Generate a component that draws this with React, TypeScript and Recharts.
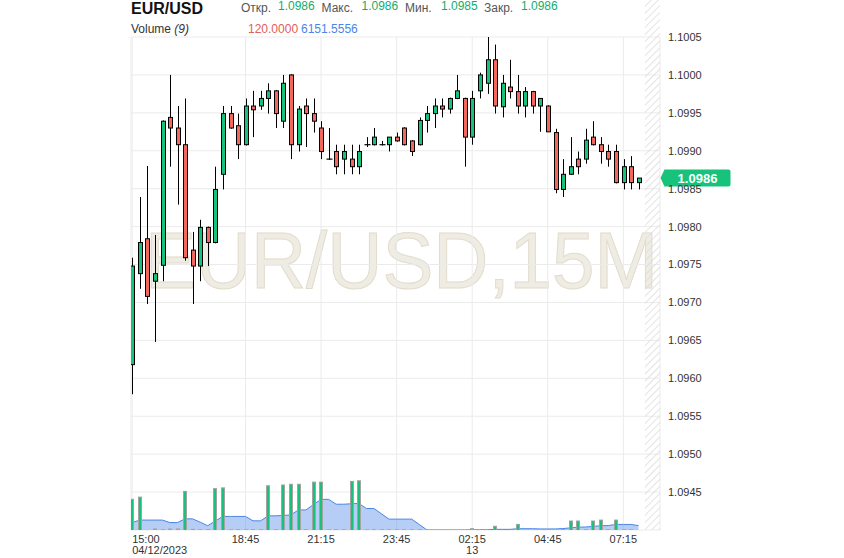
import React from 'react';
import { ComposedChart, Bar, Area, XAxis, YAxis, CartesianGrid, ReferenceArea, ReferenceDot } from 'recharts';

// 15M candles, 04/12/2023 15:00 .. 13th 07:45
const OPEN = [
  1.09618, 1.09738, 1.09784, 1.09728, 1.09749, 1.09944, 1.0993, 1.09908, 1.09769, 1.09748,
  1.09799, 1.09779, 1.09869, 1.09949, 1.09933, 1.09908, 1.09959, 1.09959, 1.09969, 1.09979,
  1.09939, 1.1, 1.09908, 1.09959, 1.09949, 1.0993, 1.09889, 1.09899, 1.09889, 1.09889,
  1.09879, 1.09908, 1.09908, 1.09908, 1.09908, 1.09918, 1.0993, 1.09913, 1.09908, 1.0994,
  1.09949, 1.09959, 1.09955, 1.09969, 1.09969, 1.09918, 1.09979, 1.09989, 1.1002, 1.09958,
  1.09984, 1.09978, 1.09959, 1.09978, 1.09959, 1.09959, 1.09924, 1.09849, 1.09869, 1.09889,
  1.09889, 1.09918, 1.09908, 1.09899, 1.09899, 1.09858, 1.09879, 1.09858,
];
const HIGH = [
  1.09759, 1.09839, 1.0988, 1.09789, 1.0994, 1.1, 1.09959, 1.09969, 1.09793, 1.09809,
  1.098, 1.09879, 1.09959, 1.09959, 1.09949, 1.09969, 1.09979, 1.09979, 1.09989, 1.0998,
  1.1, 1.10001, 1.09959, 1.09969, 1.09969, 1.09939, 1.0993, 1.09908, 1.09908, 1.09908,
  1.09908, 1.09918, 1.0993, 1.09913, 1.09918, 1.09924, 1.09931, 1.09914, 1.09944, 1.09959,
  1.09969, 1.09969, 1.0997, 1.1, 1.0997, 1.09979, 1.10003, 1.1005, 1.1004, 1.1,
  1.1002, 1.1, 1.09984, 1.09979, 1.09969, 1.0996, 1.09929, 1.09889, 1.09918, 1.09899,
  1.09929, 1.09939, 1.09918, 1.09908, 1.09908, 1.09889, 1.09893, 1.09864,
];
const LOW = [
  1.09579, 1.09718, 1.09698, 1.09648, 1.09728, 1.09879, 1.09829, 1.09755, 1.09698, 1.09728,
  1.09748, 1.09778, 1.09849, 1.09929, 1.09889, 1.09907, 1.09918, 1.09954, 1.09949, 1.0993,
  1.0993, 1.09889, 1.09899, 1.09905, 1.09924, 1.09889, 1.09888, 1.09869, 1.09869, 1.09869,
  1.09869, 1.09905, 1.09907, 1.09907, 1.09899, 1.09912, 1.09907, 1.09893, 1.09907, 1.09924,
  1.0993, 1.09944, 1.09949, 1.09968, 1.09879, 1.09908, 1.09969, 1.09975, 1.09949, 1.09944,
  1.09969, 1.09949, 1.09944, 1.09949, 1.09925, 1.09925, 1.09844, 1.09839, 1.09868, 1.09869,
  1.09883, 1.09907, 1.09883, 1.09879, 1.09857, 1.09849, 1.09849, 1.09849,
];
const CLOSE = [
  1.09748, 1.09779, 1.09708, 1.09738, 1.09939, 1.0993, 1.09908, 1.09759, 1.09748, 1.09799,
  1.09779, 1.09849, 1.09949, 1.0993, 1.09908, 1.09959, 1.09954, 1.09969, 1.09979, 1.09949,
  1.09989, 1.09908, 1.09955, 1.09949, 1.09939, 1.09899, 1.09889, 1.09879, 1.09899, 1.09879,
  1.09899, 1.09908, 1.09918, 1.09908, 1.09918, 1.09913, 1.09908, 1.09899, 1.0994, 1.09949,
  1.09959, 1.09955, 1.09969, 1.09979, 1.09918, 1.09969, 1.1, 1.1002, 1.09959, 1.09989,
  1.09978, 1.09959, 1.09978, 1.09959, 1.09969, 1.09925, 1.09849, 1.09869, 1.09879, 1.09879,
  1.09914, 1.09908, 1.09899, 1.09889, 1.09858, 1.09879, 1.09858, 1.09864,
];
const VOLUME = [
  43000, 46000, 200, 1500, 300, 1400, 1500, 54000, 900, 300,
  500, 58000, 59000, 300, 400, 300, 500, 300, 62000, 400,
  63000, 64000, 64000, 500, 67000, 67000, 300, 400, 300, 68000,
  69000, 300, 400, 300, 300, 300, 300, 300, 300, 0,
  0, 0, 0, 0, 0, 2000, 0, 0, 5200, 0,
  0, 7800, 0, 0, 0, 0, 0, 400, 12600, 12600,
  500, 12600, 13900, 400, 13900, 300, 300, 120,
];
// Volume (9) moving average
const VOLUME_MA = [
  10400, 13900, 13900, 13900, 13900, 10400, 10400, 15600, 15600, 11000,
  6000, 12500, 19000, 19000, 19000, 19000, 12800, 12800, 19800, 19800,
  20400, 21000, 28100, 28100, 35500, 42900, 42900, 36100, 36100, 36700,
  37200, 30100, 30100, 22600, 15200, 15200, 15200, 15200, 7700, 100,
  100, 100, 100, 100, 100, 300, 300, 300, 900, 900,
  900, 1800, 1800, 1800, 1500, 1500, 1500, 2000, 3000, 4000,
  4200, 5000, 6000, 6200, 7800, 7800, 7800, 6151.5556,
];
const TIME_TICK_POS = [0, 15, 25, 35, 45, 55, 65];
const TIME_TICK_LABELS = ['15:00', '18:45', '21:15', '23:45', '02:15', '04:45', '07:15'];
const TIME_TICK_SUB = ['04/12/2023', '', '', '', '13', '', ''];
const PRICE_TICKS = [1.0945, 1.095, 1.0955, 1.096, 1.0965, 1.097, 1.0975, 1.098, 1.0985, 1.099, 1.0995, 1.1, 1.1005];

const GREEN = '#17c27b';
const RED = '#f4675c';
const BLUE = '#4a86e8';
const FONT = '"Liberation Sans", Arial, sans-serif';
const X_MIN = -0.15;
const X_MAX = 69.85;
const FUTURE_FROM = 67.85;
const VOL_MAX = 690000;

const rows = OPEN.map((o, i) => ({
  i,
  o,
  h: HIGH[i],
  l: LOW[i],
  c: CLOSE[i],
  range: [LOW[i], HIGH[i]],
  vol: VOLUME[i],
  volUp: i === 0 || VOLUME[i] >= VOLUME[i - 1],
  ma: VOLUME_MA[i],
}));
const last = rows[rows.length - 1];

const Candle = (props: any) => {
  const { x, y, width, height, payload } = props;
  if (!payload) return null;
  const { o, h, l, c } = payload;
  const cx = Math.round(x + width / 2) + 0.5;
  const k = h > l ? Math.abs(height) / (h - l) : 0;
  const py = (p: number) => y + (h - p) * k;
  const top = py(Math.max(o, c));
  const bot = py(Math.min(o, c));
  return (
    <g>
      <line x1={cx} x2={cx} y1={y} y2={y + Math.abs(height)} stroke="#000" strokeWidth={1} />
      {bot - top < 1.2 ? (
        <line x1={cx - 3} x2={cx + 3} y1={top} y2={top} stroke="#000" strokeWidth={1.2} />
      ) : (
        <rect x={cx - 2} y={top} width={4} height={bot - top} fill={c >= o ? GREEN : RED} stroke="#000" strokeWidth={1} />
      )}
    </g>
  );
};

const VolBar = (props: any) => {
  const { x, y, width, height, payload } = props;
  if (!payload || !(height > 0.2)) return null;
  const left = Math.round(x + width / 2) - 2;
  return (
    <g>
      <rect x={left} y={y - 0.5} width={4} height={height + 0.5} fill="#a3a3a3" />
      {height > 1.5 && <rect x={left + 1} y={y + 0.5} width={2} height={height - 0.5} fill={payload.volUp ? GREEN : RED} />}
    </g>
  );
};

const TimeTick = (props: any) => {
  const { x, y, payload } = props;
  const k = TIME_TICK_POS.indexOf(payload.value);
  if (k < 0) return null;
  const anchor = k === 0 ? 'start' : 'middle';
  return (
    <g fontFamily={FONT} fontSize={11} fill="#333">
      <text x={x} y={y} dy={5} textAnchor={anchor}>{TIME_TICK_LABELS[k]}</text>
      {TIME_TICK_SUB[k] && (
        <text x={x} y={y} dy={15.5} textAnchor={anchor}>{TIME_TICK_SUB[k]}</text>
      )}
    </g>
  );
};

const PriceTag = (props: any) => {
  const { cx, cy } = props;
  const x0 = Math.round(cx) + 0.5;
  const yc = cy;
  return (
    <g>
      <path
        d={`M ${x0} ${yc} L ${x0 + 4} ${yc - 8.5} L ${x0 + 68} ${yc - 8.5} Q ${x0 + 70} ${yc - 8.5} ${x0 + 70} ${yc - 6.5} L ${x0 + 70} ${yc + 6.5} Q ${x0 + 70} ${yc + 8.5} ${x0 + 68} ${yc + 8.5} L ${x0 + 4} ${yc + 8.5} Z`}
        fill={GREEN}
      />
      <text x={x0 + 37} y={yc + 4.5} textAnchor="middle" fontFamily={FONT} fontSize={13} fontWeight="bold" fill="#fff">
        {last.c.toFixed(4)}
      </text>
    </g>
  );
};

export default function App() {
  return (
    <div style={{ position: 'absolute', left: 0, top: 0, width: 844, height: 558, background: '#fff', overflow: 'hidden' }}>
      <svg width={844} height={558} style={{ position: 'absolute', left: 0, top: 0 }}>
        <text
          x={145}
          y={288}
          textLength={513}
          lengthAdjust="spacingAndGlyphs"
          fontFamily={FONT}
          fontSize={80}
          fill="#efece3"
          stroke="#e2dccc"
          strokeWidth={1}
        >
          EUR/USD,15M
        </text>
      </svg>
      <ComposedChart width={844} height={558} data={rows} margin={{ top: 37, right: 0, bottom: 0, left: 131 }}>
        <defs>
          <pattern id="hatch" width={5} height={5} patternUnits="userSpaceOnUse" patternTransform="rotate(45)">
            <line x1={0} y1={0} x2={0} y2={5} stroke="#dcdcdc" strokeWidth={1.6} />
          </pattern>
        </defs>
        <XAxis
          xAxisId="t"
          dataKey="i"
          type="number"
          domain={[X_MIN, X_MAX]}
          ticks={TIME_TICK_POS}
          interval={0}
          tick={<TimeTick />}
          tickLine={false}
          axisLine={false}
          height={28}
          allowDataOverflow
        />
        <XAxis xAxisId="v" dataKey="i" type="number" domain={[X_MIN, X_MAX]} hide allowDataOverflow />
        <YAxis
          yAxisId="p"
          orientation="right"
          domain={[1.094, 1.1005]}
          ticks={PRICE_TICKS}
          interval={0}
          tickFormatter={(v: number) => v.toFixed(4)}
          tick={{ fontSize: 11, fill: '#333', fontFamily: FONT }}
          tickLine={false}
          axisLine={false}
          width={184}
          allowDataOverflow
        />
        <YAxis yAxisId="v" domain={[0, VOL_MAX]} hide allowDataOverflow />
        <ReferenceArea
          xAxisId="t"
          yAxisId="p"
          x1={FUTURE_FROM}
          x2={X_MAX}
          y1={1.094}
          y2={1.101}
          ifOverflow="visible"
          fill="url(#hatch)"
          fillOpacity={1}
          stroke="none"
        />
        <CartesianGrid xAxisId="t" yAxisId="p" stroke="#ebebeb" />
        <Bar xAxisId="t" yAxisId="p" dataKey="range" barSize={6} shape={<Candle />} isAnimationActive={false} />
        <Bar xAxisId="v" yAxisId="v" dataKey="vol" barSize={4} shape={<VolBar />} isAnimationActive={false} />
        <Area
          xAxisId="v"
          yAxisId="v"
          dataKey="ma"
          type="linear"
          stroke={BLUE}
          strokeWidth={1}
          fill="#6d9cec"
          fillOpacity={0.5}
          dot={false}
          activeDot={false}
          isAnimationActive={false}
        />
        <ReferenceDot
          xAxisId="t"
          yAxisId="p"
          x={X_MAX}
          y={last.c}
          ifOverflow="visible"
          shape={(p: any) => <PriceTag cx={p.cx} cy={p.cy} />}
        />
      </ComposedChart>
      <svg width={844} height={40} style={{ position: 'absolute', left: 0, top: 0, pointerEvents: 'none' }} fontFamily={FONT}>
        <text x={131} y={14} fontSize={16} fontWeight="bold" fill="#111">EUR/USD</text>
        <text x={241} y={11.5} fontSize={12} fill="#555">Откр.</text>
        <text x={278} y={10} fontSize={12} fill="#13ad6b">{last.o.toFixed(4)}</text>
        <text x={321.5} y={11.5} fontSize={12} fill="#555">Макс.</text>
        <text x={361.5} y={10} fontSize={12} fill="#13ad6b">{last.h.toFixed(4)}</text>
        <text x={405} y={11.5} fontSize={12} fill="#555">Мин.</text>
        <text x={441} y={10} fontSize={12} fill="#13ad6b">{last.l.toFixed(4)}</text>
        <text x={484} y={11.5} fontSize={12} fill="#555">Закр.</text>
        <text x={521} y={10} fontSize={12} fill="#13ad6b">{last.c.toFixed(4)}</text>
        <text x={131} y={33} fontSize={12} fill="#333">
          Volume <tspan fontStyle="italic">(9)</tspan>
        </text>
        <text x={248} y={33} fontSize={12} fill="#e0605a">{last.vol.toFixed(4)}</text>
        <text x={301} y={33} fontSize={12} fill={BLUE}>{last.ma.toFixed(4)}</text>
      </svg>
    </div>
  );
}
